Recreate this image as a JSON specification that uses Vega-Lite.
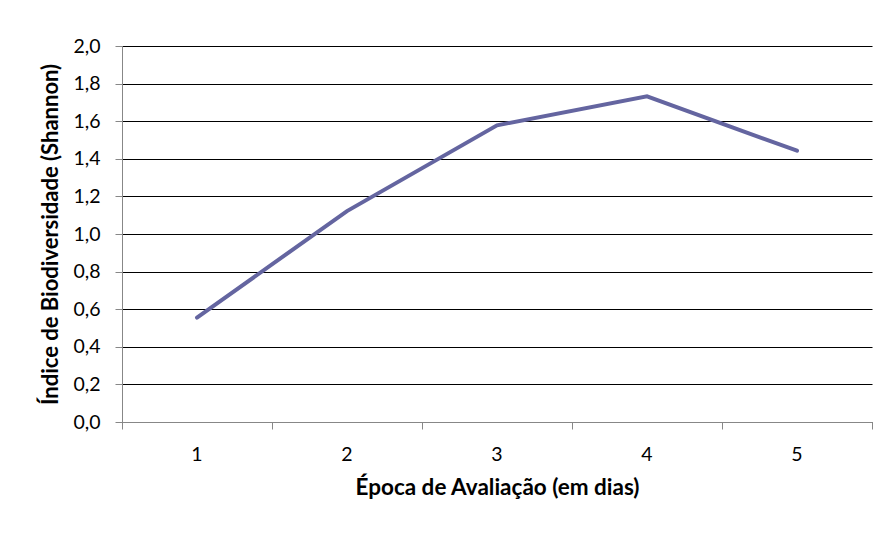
{
  "$schema": "https://vega.github.io/schema/vega-lite/v6.json",
  "autosize": "none",
  "width": 750,
  "height": 376,
  "padding": {"left": 122, "top": 46, "right": 12, "bottom": 117},
  "background": "white",
  "config": {
    "view": {"stroke": null},
    "font": "Lato"
  },
  "data": {
    "values": [
      {"epoca": "1", "shannon": 0.555},
      {"epoca": "2", "shannon": 1.122},
      {"epoca": "3", "shannon": 1.578},
      {"epoca": "4", "shannon": 1.732},
      {"epoca": "5", "shannon": 1.443}
    ]
  },
  "mark": {"type": "line", "color": "#6465a0", "strokeWidth": 4, "strokeCap": "round"},
  "encoding": {
    "x": {
      "field": "epoca",
      "type": "ordinal",
      "scale": {"type": "band", "paddingInner": 0, "paddingOuter": 0},
      "axis": {
        "title": "Época de Avaliação (em dias)",
        "labelAngle": 0,
        "bandPosition": 1,
        "tickExtra": true,
        "grid": false,
        "domainColor": "#878787",
        "tickColor": "#878787",
        "tickSize": 7,
        "labelPadding": 16,
        "labelFontSize": 19.5,
        "labelColor": "#000",
        "labelFont": "Lato",
        "titleFont": "Lato",
        "titleFontSize": 22.5,
        "titleFontWeight": "bold",
        "titleColor": "#000",
        "titlePadding": 13
      }
    },
    "y": {
      "field": "shannon",
      "type": "quantitative",
      "scale": {"domain": [0, 2], "nice": false, "zero": true},
      "axis": {
        "title": "Índice de Biodiversidade (Shannon)",
        "values": [0, 0.2, 0.4, 0.6, 0.8, 1.0, 1.2, 1.4, 1.6, 1.8, 2.0],
        "labelExpr": "replace(format(datum.value, '.1f'), '.', ',')",
        "grid": true,
        "gridColor": "#000000",
        "gridWidth": 1,
        "domainColor": "#878787",
        "tickColor": "#878787",
        "tickSize": 7,
        "labelPadding": 15,
        "labelFontSize": 19.5,
        "labelColor": "#000",
        "labelFont": "Lato",
        "titleFont": "Lato",
        "titleFontSize": 22,
        "titleFontWeight": "bold",
        "titleColor": "#000",
        "titlePadding": 10
      }
    }
  }
}
